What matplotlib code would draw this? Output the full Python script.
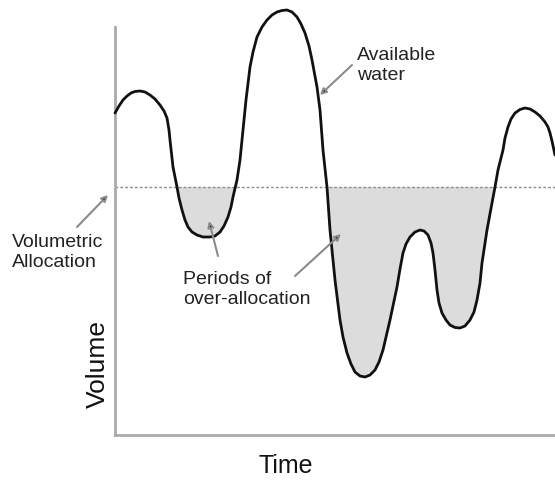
import matplotlib
matplotlib.use('Agg')
import matplotlib.pyplot as plt
import numpy as np

plt.rcParams['font.family'] = ['Liberation Sans', 'DejaVu Sans']

# available water over time (arbitrary units)
time = [0, 4, 8, 12, 16, 20, 25, 30, 35, 40, 45, 49, 52, 54, 55, 58, 62, 64, 67,
        70, 73, 77, 82, 88, 95, 100, 105, 109, 113, 116, 118, 122, 125, 128, 131,
        135, 138, 142, 147, 152, 157, 162, 167, 172, 177, 182, 186, 190, 194, 197,
        202, 205, 208, 212, 215, 220, 225, 228, 232, 236, 240, 245, 250, 255, 260,
        264, 268, 275, 282, 285, 288, 291, 295, 300, 305, 309, 313, 316, 318, 320,
        322, 324, 327, 331, 335, 340, 345, 350, 355, 359, 362, 365, 367, 372, 377,
        380, 383, 388, 390, 393, 396, 400, 405, 410, 415, 420, 425, 430, 433, 435,
        437, 440]
water = [322, 329, 335, 339, 342, 343.5, 344, 343, 340, 336, 330, 324, 317, 305,
         295, 268, 248, 237, 225, 215, 208, 203, 200, 198, 198, 199, 203, 209, 218,
         228, 238, 255, 275, 305, 335, 368, 383, 398, 408, 415, 420, 423, 424.5,
         425, 423, 418, 411, 402, 389, 375, 348, 325, 285, 248, 205, 155, 115, 98,
         82, 71, 63, 59, 58, 60, 65, 73, 85, 115, 148, 166, 182, 191, 198, 203, 205,
         204, 200, 192, 182, 165, 145, 132, 122, 115, 110, 107.5, 107, 109, 115,
         123, 135, 152, 172, 205, 232, 248, 265, 285, 297, 308, 316, 322, 325.5,
         327, 326, 323, 319, 313, 308, 302, 294, 280]
allocation = 248

t = np.array(time)
w = np.array(water)

fig = plt.figure(figsize=(5.55, 4.83), dpi=100)
ax = fig.add_axes([115/555, 48/483, 440/555, 408/483])
ax.set_xlim(0, 440)
ax.set_ylim(0, 408)

ax.fill_between(t, w, allocation, where=w < allocation, interpolate=True,
                color='#dcdcdc', lw=0, clip_on=False, zorder=1)
ax.axhline(allocation, color='#8c8c8c', lw=1, ls=(0, (2, 1.5)), zorder=2)
ax.plot(t, w, color='#111111', lw=2, clip_on=False, zorder=3,
        solid_joinstyle='round', solid_capstyle='round')

for s in ['top', 'right']:
    ax.spines[s].set_visible(False)
for s in ['left', 'bottom']:
    ax.spines[s].set_color('#aaaaaa')
    ax.spines[s].set_linewidth(2)
ax.set_xticks([])
ax.set_yticks([])

arrow = dict(arrowstyle='-|>', ec='#8a8a8a', fc='black', lw=1.5,
             mutation_scale=9, shrinkA=0, shrinkB=0)
txt = dict(fontsize=14, color='#222222', ha='left', va='top',
           linespacing=1.2, clip_on=False)

ax.annotate('', xy=(205, 340), xytext=(237, 370), arrowprops=arrow)
ax.text(242, 388, 'Available\nwater', **txt)

ax.annotate('', xy=(-7, 240), xytext=(-38, 208), arrowprops=arrow,
            annotation_clip=False)
ax.text(-103, 201, 'Volumetric\nAllocation', **txt)

ax.annotate('', xy=(94, 214), xytext=(103, 179), arrowprops=arrow)
ax.annotate('', xy=(226, 201), xytext=(180, 159), arrowprops=arrow)
ax.text(68, 164, 'Periods of\nover-allocation', **txt)

fig.text(98/555, 1 - 364/483, 'Volume', rotation=90, fontsize=19,
         color='#111111', ha='center', va='center')
fig.text(286/555, 1 - 466/483, 'Time', fontsize=18, color='#111111',
         ha='center', va='center')

fig.savefig('out.png', dpi=100)
